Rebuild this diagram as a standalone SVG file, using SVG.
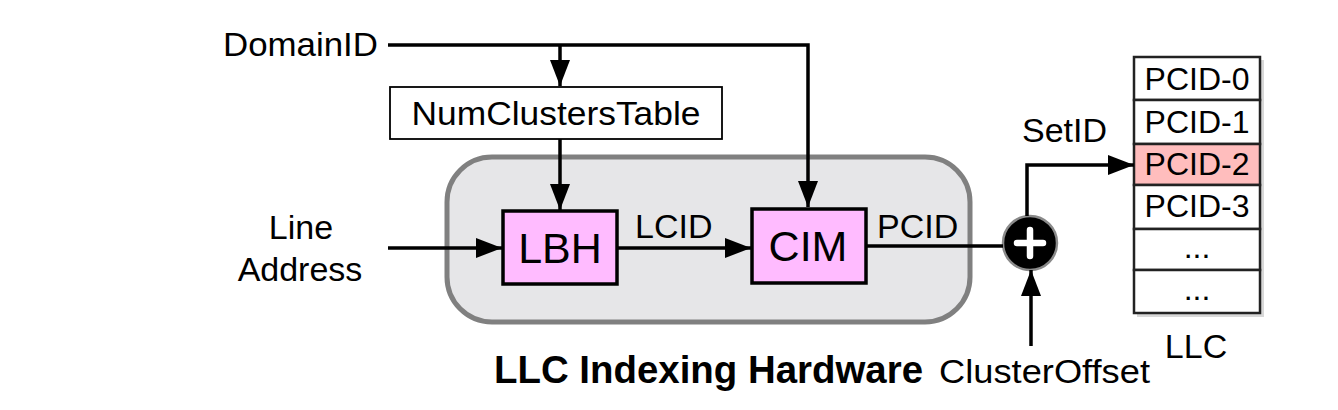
<svg xmlns="http://www.w3.org/2000/svg" width="1338" height="410" viewBox="0 0 1338 410">
<defs>
<style>
text{font-family:"Liberation Sans",Arial,sans-serif;fill:#000}
.lbl{font-size:34px}
.big{font-size:43px}
.row{font-size:32px}
.wire{fill:none;stroke:#000;stroke-width:3.5}
.blk{fill:#ffbbff;stroke:#000;stroke-width:3.5}
.cell{fill:#fff;stroke:#222;stroke-width:2.5}
.hot{fill:#ffbdbd}
</style>
<marker id="ah" viewBox="0 0 26 20" refX="26" refY="10" markerWidth="26" markerHeight="20" markerUnits="userSpaceOnUse" orient="auto">
<path d="M0,0 L26,10 L0,20 Z" fill="#000"/>
</marker>
</defs>
<rect width="1338" height="410" fill="#fff"/>

<g id="hw">
<rect x="447" y="157" width="523" height="165" rx="45" fill="#e6e6e8" stroke="#808080" stroke-width="5"/>
<text x="494" y="383" font-size="38" font-weight="bold" textLength="429" lengthAdjust="spacingAndGlyphs">LLC Indexing Hardware</text>
</g>

<g id="domainid"><text class="lbl" x="223" y="56" textLength="155" lengthAdjust="spacingAndGlyphs">DomainID</text></g>

<g id="lineaddr">
<text class="lbl" x="301" y="239" text-anchor="middle">Line</text>
<text class="lbl" x="300" y="281" text-anchor="middle">Address</text>
</g>

<g id="nct">
<rect x="390" y="87" width="332" height="52" fill="#fff" stroke="#000" stroke-width="1.8"/>
<text class="lbl" x="556" y="125" text-anchor="middle" textLength="289" lengthAdjust="spacingAndGlyphs">NumClustersTable</text>
</g>

<g id="lbh">
<rect class="blk" x="503" y="211" width="114" height="73"/>
<text class="big" x="560" y="263" text-anchor="middle">LBH</text>
</g>

<g id="cim">
<rect class="blk" x="752" y="209" width="114" height="74"/>
<text class="big" x="808" y="261" text-anchor="middle">CIM</text>
</g>

<g id="adder">
<circle cx="1030" cy="243" r="27" fill="#000" stroke="#8a8a8a" stroke-width="2.5"/>
<path d="M1030,230 V256 M1017,243 H1043" stroke="#fff" stroke-width="6.5" stroke-linecap="round"/>
</g>

<g id="clusteroffset"><text class="lbl" x="939" y="383" textLength="211" lengthAdjust="spacingAndGlyphs">ClusterOffset</text></g>

<g id="llc">
<rect x="1137" y="60" width="127" height="257" fill="#b8b8b8" opacity="0.55"/>
<rect class="cell" x="1134" y="57" width="126" height="43"/>
<rect class="cell" x="1134" y="100" width="126" height="44"/>
<rect class="cell hot" x="1134" y="144" width="126" height="41"/>
<rect class="cell" x="1134" y="185" width="126" height="44"/>
<rect class="cell" x="1134" y="229" width="126" height="41"/>
<rect class="cell" x="1134" y="270" width="126" height="43"/>
<text class="row" x="1197" y="90" text-anchor="middle">PCID-0</text>
<text class="row" x="1197" y="133" text-anchor="middle">PCID-1</text>
<text class="row" x="1197" y="175" text-anchor="middle">PCID-2</text>
<text class="row" x="1197" y="217" text-anchor="middle">PCID-3</text>
<text class="row" x="1197" y="258" text-anchor="middle">...</text>
<text class="row" x="1197" y="300" text-anchor="middle">...</text>
<text class="lbl" x="1196" y="358" text-anchor="middle">LLC</text>
</g>

<g id="connectors">
<path class="wire" d="M388,45 H808 V207" marker-end="url(#ah)"/>
<path class="wire" d="M560,45 V86" marker-end="url(#ah)"/>
<path class="wire" d="M560,139 V210" marker-end="url(#ah)"/>
<path class="wire" d="M388,248 H502" marker-end="url(#ah)"/>
<path class="wire" d="M617,248 H751" marker-end="url(#ah)"/>
<path class="wire" d="M866,246 H1003"/>
<path class="wire" d="M1027,216 V165 H1134" marker-end="url(#ah)"/>
<path class="wire" d="M1031,346 V270" marker-end="url(#ah)"/>
<text class="lbl" x="635" y="238">LCID</text>
<text class="lbl" x="877" y="238">PCID</text>
<text class="lbl" x="1022" y="142">SetID</text>
</g>
</svg>
